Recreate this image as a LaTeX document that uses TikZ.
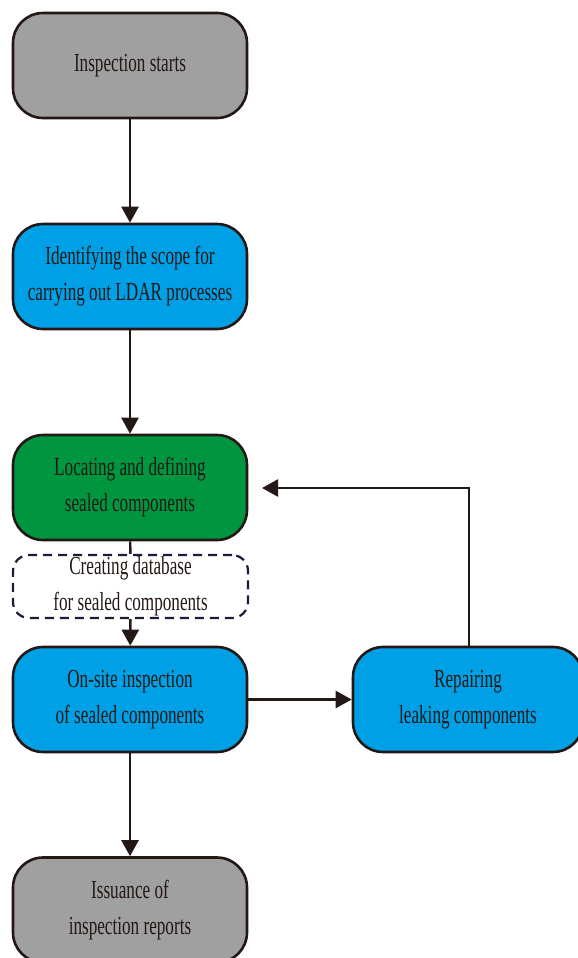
\documentclass[tikz,border=0pt]{standalone}
\usepackage{fontspec}
\setmainfont[FakeStretch=0.66]{Liberation Serif}
\usetikzlibrary{arrows.meta}
\definecolor{ink}{HTML}{231815}
\definecolor{boxgray}{HTML}{A0A0A0}
\definecolor{boxblue}{HTML}{00A0E6}
\definecolor{boxgreen}{HTML}{009640}
\definecolor{dashnavy}{HTML}{1B1B3A}
\begin{document}
\begin{tikzpicture}[x=1pt,y=-1pt,
  flowbox/.style={draw=ink, line width=2.6pt, rounded corners=30pt, minimum width=234pt, minimum height=105pt,
    align=center, text=ink, font=\fontsize{26}{36}\selectfont, inner sep=0pt},
  dbbox/.style={draw=dashnavy, line width=2.2pt, dash pattern=on 9pt off 6pt, rounded corners=16pt, fill=white,
    minimum width=235pt, minimum height=63pt, align=center, text=ink, font=\fontsize{26}{36}\selectfont, inner sep=0pt},
  link/.style={draw=ink, line width=2.4pt, -{Triangle[length=16pt,width=17pt]}},
  plainlink/.style={draw=ink, line width=2.4pt}]
\useasboundingbox (0,0) rectangle (578,958);
\node[flowbox, fill=boxgray] (start) at (130,65.5) {Inspection starts};
\node[flowbox, fill=boxblue] (scope) at (130,276.5) {Identifying the scope for\\carrying out LDAR processes};
\node[flowbox, fill=boxgreen] (locate) at (130,487.5) {Locating and defining\\sealed components};
\node[dbbox] (db) at (130.5,586.5) {Creating database\\for sealed components};
\node[flowbox, fill=boxblue] (onsite) at (130,699.5) {On-site inspection\\of sealed components};
\node[flowbox, fill=boxblue, minimum width=230pt] (repair) at (468,699.5) {Repairing\\leaking components};
\node[flowbox, fill=boxgray] (report) at (130,910) {Issuance of\\inspection reports};
\coordinate (fbturn) at (469,488);
\coordinate (fbend) at (262,488);
\draw[link] (start) -- (scope);
\draw[link] (scope) -- (locate);
\draw[plainlink] (locate) -- (db);
\draw[link] (db) -- (onsite);
\draw[link] (onsite) -- (report);
\draw[link] (onsite) -- (repair);
\draw[link] (repair.north -| fbturn) -- (fbturn) -- (fbend);
\end{tikzpicture}
\end{document}
